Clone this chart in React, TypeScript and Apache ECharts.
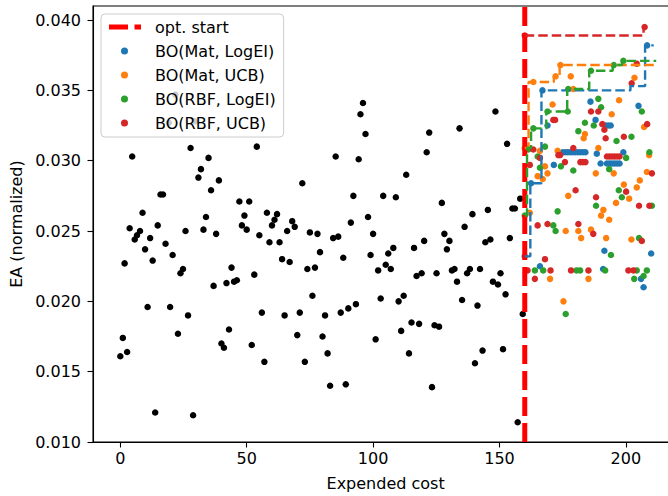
import React, { useEffect, useRef } from 'react';
import * as echarts from 'echarts';

const xTicks = [0, 50, 100, 150, 200];
const yTicks = [0.01, 0.015, 0.02, 0.025, 0.03, 0.035, 0.04];

const initCost = [0, 1, 1.7, 2.7, 3.7, 4.7, 5.7, 6.6, 7.8, 8.8, 9.8, 10.8, 11.8, 12.8, 13.8, 14.8, 15.9, 16.9, 17.9, 19.2, 19.7, 20.7, 21.8, 22.8, 23.8, 24.8, 25.8, 26.8, 27.8, 28.8, 29.5, 30.9, 31.9, 32.9, 33.9, 34.9, 35.9, 36.9, 37.9, 39, 40, 41, 42, 43, 44, 45, 46.1, 47.1, 48.1, 49.1, 50, 51, 52, 53, 54, 55, 56, 57, 58, 59, 60, 61, 62, 63, 64, 65, 66, 67, 68, 69, 70, 71, 72, 73, 74, 75, 76, 77, 78, 79, 80, 81, 82, 83, 84.2, 85.2, 86.2, 87.2, 88.2, 89.2, 90.2, 91.2, 92.2, 93.2, 94.3, 95, 96, 97, 98, 99, 100, 101, 102, 103, 104, 105, 106, 107, 108, 109, 110.1, 111.1, 112.1, 113.1, 114.2, 115.2, 116.2, 117.2, 118.2, 119.2, 120.2, 121.2, 122.2, 123.3, 124.3, 125.1, 126.1, 127.2, 128.2, 129.2, 130.2, 131.2, 132.2, 133.2, 134.2, 135.2, 136.2, 137.2, 138.3, 139.3, 140.3, 141.3, 142.3, 143.3, 144.4, 145.4, 146.4, 147.4, 148.4, 149.4, 150.4, 151.4, 152.4, 153, 154.1, 155.1, 156.1, 157.2, 158.2, 159.2];
const initEA = [0.0161, 0.0174, 0.0227, 0.0164, 0.0252, 0.0303, 0.0244, 0.0247, 0.025, 0.0263, 0.0237, 0.0196, 0.0245, 0.0229, 0.0121, 0.0254, 0.0276, 0.0276, 0.0241, 0.0327, 0.0196, 0.0233, 0.0347, 0.0177, 0.022, 0.0223, 0.025, 0.019, 0.0309, 0.0119, 0.0328, 0.0288, 0.0294, 0.0251, 0.026, 0.0302, 0.0279, 0.0211, 0.0248, 0.0286, 0.017, 0.0167, 0.0213, 0.018, 0.0224, 0.0214, 0.0215, 0.0271, 0.0254, 0.0261, 0.0251, 0.0271, 0.0169, 0.0219, 0.031, 0.0247, 0.0192, 0.0157, 0.0263, 0.0242, 0.0254, 0.0258, 0.0262, 0.0242, 0.023, 0.019, 0.025, 0.0228, 0.0257, 0.0253, 0.0176, 0.0192, 0.0284, 0.0157, 0.0223, 0.0249, 0.0204, 0.0224, 0.0248, 0.0235, 0.0175, 0.019, 0.0163, 0.014, 0.0245, 0.0303, 0.0246, 0.0192, 0.0231, 0.0141, 0.0195, 0.0256, 0.0275, 0.0198, 0.0301, 0.0333, 0.0341, 0.0319, 0.026, 0.0233, 0.0248, 0.0173, 0.0222, 0.0202, 0.0275, 0.0226, 0.0234, 0.0223, 0.0238, 0.0274, 0.02, 0.0179, 0.0204, 0.029, 0.0163, 0.0185, 0.0238, 0.0218, 0.0184, 0.022, 0.0243, 0.0306, 0.032, 0.0139, 0.0183, 0.022, 0.0182, 0.027, 0.0248, 0.0237, 0.0243, 0.0222, 0.0223, 0.0214, 0.0323, 0.0201, 0.0253, 0.022, 0.0223, 0.0262, 0.0156, 0.0197, 0.0223, 0.0165, 0.0242, 0.0265, 0.0244, 0.0214, 0.0335, 0.0212, 0.022, 0.0166, 0.0205, 0.0312, 0.0245, 0.0266, 0.0266, 0.0114, 0.0273, 0.0191];

const optStartCost = 160;

const matLogEICost = [160, 162.5, 166, 167, 169, 171.5, 175, 176, 177, 178, 179, 180, 181, 182, 183, 184, 186, 188, 188.5, 190, 191, 191.5, 192, 193, 194, 192.5, 193.5, 194.5, 195.5, 196.5, 197.5, 199, 205, 206, 207, 208.4, 210];
const matLogEIEA = [0.0232, 0.0284, 0.0225, 0.035, 0.0325, 0.0297, 0.0306, 0.0306, 0.0306, 0.0306, 0.0306, 0.0306, 0.0306, 0.0306, 0.0306, 0.0306, 0.0342, 0.0329, 0.0305, 0.0298, 0.0223, 0.0236, 0.0325, 0.0325, 0.0325, 0.0298, 0.0298, 0.0298, 0.0298, 0.0298, 0.0298, 0.0306, 0.0339, 0.0216, 0.021, 0.0382, 0.0234];

const matUCBCost = [160, 162, 163.4, 165.1, 166, 167.1, 168, 169, 170, 171, 172.2, 173, 174.1, 175.3, 176.2, 177.2, 178.2, 179.2, 181.2, 182.3, 183.3, 183.8, 185.2, 186.2, 188.1, 189.1, 190.2, 191.1, 192.2, 193.4, 194.4, 195.2, 196.1, 197.3, 199.2, 201.3, 202.2, 203.4, 204.3, 205.5, 207.2, 208.3, 209.2];
const matUCBEA = [0.0309, 0.0263, 0.0356, 0.0289, 0.0307, 0.0287, 0.0296, 0.0291, 0.0216, 0.034, 0.036, 0.0307, 0.0368, 0.02, 0.025, 0.0275, 0.036, 0.0351, 0.025, 0.0245, 0.0316, 0.0319, 0.0216, 0.0251, 0.0291, 0.0309, 0.0261, 0.0265, 0.0245, 0.0258, 0.0333, 0.0291, 0.027, 0.0343, 0.0283, 0.0273, 0.0244, 0.0359, 0.0281, 0.0286, 0.0324, 0.0292, 0.0304];

const rbfLogEICost = [160, 160.9, 161.4, 163.4, 164, 165.1, 166, 167.3, 168, 169, 171.3, 172.2, 173, 174.3, 176.2, 177, 177.2, 179.2, 180.5, 181.2, 181.9, 183.8, 186.2, 187.3, 188.2, 189.1, 190.2, 191.8, 193.4, 194.1, 195.2, 196.3, 197.2, 198.4, 199, 200.1, 202.2, 203.3, 204.3, 205.2, 206.3, 207, 208.3, 209.3, 210.3];
const rbfLogEIEA = [0.0261, 0.0309, 0.0308, 0.0323, 0.0222, 0.0303, 0.0295, 0.0222, 0.031, 0.0335, 0.0254, 0.025, 0.0264, 0.0296, 0.0191, 0.0335, 0.0351, 0.0293, 0.0222, 0.0321, 0.0222, 0.0327, 0.0364, 0.0325, 0.0268, 0.0344, 0.0338, 0.0222, 0.0294, 0.0233, 0.0368, 0.0314, 0.0279, 0.0274, 0.0371, 0.0302, 0.0317, 0.0216, 0.0222, 0.0245, 0.0335, 0.0218, 0.0222, 0.0306, 0.0268];

const rbfUCBCost = [160, 161.1, 162, 163.4, 164, 165.1, 166, 168, 169, 170.2, 171.3, 172, 173.3, 174, 175.9, 178.3, 179.2, 180.1, 181.2, 182, 183, 184, 185.2, 186.2, 187.1, 188.2, 189.1, 190.7, 191.5, 192, 192.5, 193.5, 194.5, 195.5, 196.5, 197.5, 199.2, 200.1, 201, 202.3, 203, 204.3, 205.2, 206.3, 207.4, 208.4, 209.3, 210.3];
const rbfUCBEA = [0.0389, 0.0222, 0.0297, 0.0308, 0.0216, 0.0254, 0.0302, 0.023, 0.0255, 0.0222, 0.0329, 0.0329, 0.0304, 0.0304, 0.0299, 0.0222, 0.0309, 0.0279, 0.0255, 0.0299, 0.0299, 0.0299, 0.0222, 0.0335, 0.0248, 0.0274, 0.0335, 0.0326, 0.0322, 0.0316, 0.0303, 0.0303, 0.0303, 0.0303, 0.0303, 0.0303, 0.0317, 0.0278, 0.0222, 0.0355, 0.0222, 0.0369, 0.0268, 0.0243, 0.0395, 0.0326, 0.0268, 0.0291];

// running best (cost where the best value changes, new best value)
const matLogEIBestCost = [160, 162.2, 166.6, 201.8, 207.6, 211];
const matLogEIBestEA = [0.0232, 0.0284, 0.035, 0.0353, 0.0382, 0.0382];
const matUCBBestCost = [160, 161.5, 171.5, 173.8, 212];
const matUCBBestEA = [0.0309, 0.0356, 0.036, 0.0368, 0.0368];
const rbfLogEIBestCost = [160, 160.9, 162.5, 168.5, 176.8, 185.5, 194.8, 198.5, 212];
const rbfLogEIBestEA = [0.0261, 0.0309, 0.0323, 0.0335, 0.0351, 0.0364, 0.0368, 0.0371, 0.0371];
const rbfUCBBestCost = [160, 207, 210];
const rbfUCBBestEA = [0.0389, 0.0395, 0.0395];

const zip = (a: number[], b: number[]) => a.map((v, i) => [v, b[i]]);

const FONT = 'DejaVu Sans';
const BLUE = '#1f77b4';
const ORANGE = '#ff7f0e';
const GREEN = '#2ca02c';
const RED = '#d62728';

const DOT_ICON = 'path://M0,0M41,7M12,3.5A3.5,3.5,0,1,0,19,3.5A3.5,3.5,0,1,0,12,3.5Z';
const DASH_ICON = 'path://M0,0M41,7M0,1H19V6H0ZM25.5,1H32V6H25.5Z';

export default function App() {
  const ref = useRef<HTMLDivElement>(null);
  useEffect(() => {
    document.body.style.margin = '0';
    const chart = echarts.init(ref.current!, null, { renderer: 'svg' });
    const dot = 6.5;
    const scatter = (name: string, c: number[], v: number[], color: string) => ({
      type: 'scatter', name, data: zip(c, v), symbolSize: dot, itemStyle: { color, opacity: 1 },
    });
    const best = (name: string, c: number[], v: number[], color: string) => ({
      type: 'line', name, data: zip(c, v), step: 'end', symbol: 'none', showSymbol: false,
      lineStyle: { color, width: 2.4, type: [9.5, 4] }, itemStyle: { color },
    });
    const axisCommon = {
      nameLocation: 'middle',
      nameTextStyle: { fontFamily: FONT, fontSize: 16, color: '#000' },
      axisLine: { show: true, onZero: false, lineStyle: { color: '#000', width: 1.1 } },
      splitLine: { show: false },
    };
    chart.setOption({
      animation: false,
      backgroundColor: '#ffffff',
      textStyle: { fontFamily: FONT },
      grid: {
        left: 93, top: 6, width: 585.2, height: 436, outerBoundsMode: 'none', containLabel: false,
        show: true, borderColor: '#000', borderWidth: 1.1, backgroundColor: 'transparent',
      },
      xAxis: {
        ...axisCommon,
        type: 'value', min: -10.8, max: 220.7, name: 'Expended cost', nameGap: 33,
        axisTick: { show: true, customValues: xTicks, length: 5.5, lineStyle: { color: '#000', width: 1.1 } },
        axisLabel: { customValues: xTicks, margin: 8, fontFamily: FONT, fontSize: 16, color: '#000' },
      },
      yAxis: {
        ...axisCommon,
        type: 'value', min: 0.01, max: 0.041, name: 'EA (normalized)', nameGap: 63,
        axisTick: { show: true, customValues: yTicks, length: 5.5, lineStyle: { color: '#000', width: 1.1 } },
        axisLabel: { customValues: yTicks, margin: 12, fontFamily: FONT, fontSize: 16, color: '#000', formatter: (v: number) => v.toFixed(3) },
      },
      legend: {
        orient: 'vertical', left: 101, top: 14, itemWidth: 41, itemHeight: 7, itemGap: 8,
        padding: [5, 8, 6, 8],
        backgroundColor: 'rgba(255,255,255,0.8)', borderColor: '#cccccc', borderWidth: 1, borderRadius: 4,
        selectedMode: false,
        itemStyle: { borderWidth: 0 },
        textStyle: { fontFamily: FONT, fontSize: 16, color: '#000', lineHeight: 16 },
        data: [
          { name: 'opt. start', icon: DASH_ICON, itemStyle: { color: '#ff0000', borderWidth: 0 } },
          { name: 'BO(Mat, LogEI)', icon: DOT_ICON },
          { name: 'BO(Mat, UCB)', icon: DOT_ICON },
          { name: 'BO(RBF, LogEI)', icon: DOT_ICON },
          { name: 'BO(RBF, UCB)', icon: DOT_ICON },
        ],
      },
      series: [
        { type: 'scatter', name: 'initial', data: zip(initCost, initEA), symbolSize: dot, itemStyle: { color: '#000000', opacity: 1 } },
        {
          type: 'line', name: 'opt. start', data: [[optStartCost, 0.01], [optStartCost, 0.041]], symbol: 'none', showSymbol: false,
          lineStyle: { color: '#ff0000', width: 5, type: [19, 7] }, itemStyle: { color: '#ff0000' },
        },
        scatter('BO(Mat, LogEI)', matLogEICost, matLogEIEA, BLUE),
        best('BO(Mat, LogEI) best', matLogEIBestCost, matLogEIBestEA, BLUE),
        scatter('BO(Mat, UCB)', matUCBCost, matUCBEA, ORANGE),
        best('BO(Mat, UCB) best', matUCBBestCost, matUCBBestEA, ORANGE),
        scatter('BO(RBF, LogEI)', rbfLogEICost, rbfLogEIEA, GREEN),
        best('BO(RBF, LogEI) best', rbfLogEIBestCost, rbfLogEIBestEA, GREEN),
        scatter('BO(RBF, UCB)', rbfUCBCost, rbfUCBEA, RED),
        best('BO(RBF, UCB) best', rbfUCBBestCost, rbfUCBBestEA, RED),
      ],
    });
    return () => chart.dispose();
  }, []);
  return <div ref={ref} style={{ position: 'absolute', left: 0, top: 0, width: 668, height: 496 }} />;
}
